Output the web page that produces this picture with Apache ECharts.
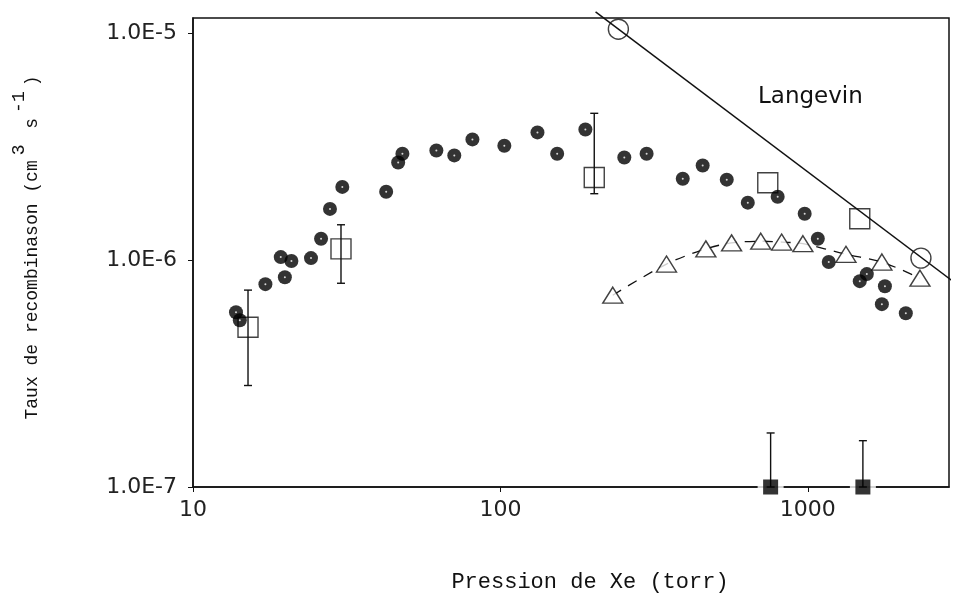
<!DOCTYPE html>
<html>
<head>
<meta charset="utf-8">
<script src="https://cdn.jsdelivr.net/npm/echarts@6/dist/echarts.min.js"></script>
<style>
html,body{margin:0;padding:0;background:#fff;}
#chart{width:959px;height:605px;}
</style>
</head>
<body>
<div id="chart"></div>
<script>
// ---- data (pressure in torr, rate in cm^3 s^-1) ----
const filledP = [13.8, 14.2, 17.2, 19.3, 19.9, 20.9, 24.2, 26.1, 27.9, 30.6, 42.5, 46.5, 48.0, 61.9, 70.8, 81.1, 103, 132, 153, 189, 253, 299, 392, 455, 545, 638, 798, 977, 1078, 1170, 1476, 1556, 1782, 1742, 2084];
const filledK = [5.89e-7, 5.43e-7, 7.83e-7, 1.03e-6, 8.4e-7, 9.9e-7, 1.02e-6, 1.24e-6, 1.68e-6, 2.1e-6, 2.0e-6, 2.69e-6, 2.94e-6, 3.04e-6, 2.89e-6, 3.40e-6, 3.19e-6, 3.65e-6, 2.94e-6, 3.76e-6, 2.83e-6, 2.94e-6, 2.28e-6, 2.61e-6, 2.26e-6, 1.79e-6, 1.90e-6, 1.60e-6, 1.24e-6, 9.8e-7, 8.07e-7, 8.67e-7, 7.67e-7, 6.39e-7, 5.83e-7];

const squareP = [15.1, 30.3, 202, 741, 1476];
const squareK = [5.06e-7, 1.12e-6, 2.31e-6, 2.19e-6, 1.52e-6];

const errP = [15.1, 30.3, 202, 757, 1511];
const errLow = [2.8e-7, 7.9e-7, 1.96e-6, 1.0e-7, 1.0e-7];
const errHigh = [7.37e-7, 1.43e-6, 4.43e-6, 1.73e-7, 1.60e-7];

const openCircleP = [242, 2334];
const openCircleK = [1.04e-5, 1.02e-6];

const triangleP = [232, 347, 466, 565, 703, 822, 964, 1331, 1742, 2317];
const triangleK = [7.0e-7, 9.6e-7, 1.12e-6, 1.19e-6, 1.21e-6, 1.20e-6, 1.18e-6, 1.06e-6, 9.8e-7, 8.32e-7];

const bottomP = [757, 1511];
const bottomK = [1.0e-7, 1.0e-7];

const langevinP = [204, 3083];
const langevinK = [1.24e-5, 7.74e-7];

const xTickValues = [10, 100, 1000];
const xTickLabels = ['10', '100', '1000'];
const yTickValues = [1e-7, 1e-6, 1e-5];
const yTickLabels = ['1.0E-7', '1.0E-6', '1.0E-5'];

// ---- helpers ----
const zip = (a, b) => a.map((v, i) => [v, b[i]]);
function tickLabel(values, labels) {
  return function (v) {
    const lv = Math.log10(v);
    for (let i = 0; i < values.length; i++) {
      if (Math.abs(Math.log10(values[i]) - lv) < 1e-6) return labels[i];
    }
    return '';
  };
}
const errData = errP.map((p, i) => [p, errLow[i], errHigh[i]]);
function renderErr(params, api) {
  const x = api.value(0);
  const lo = api.coord([x, api.value(1)]);
  const hi = api.coord([x, api.value(2)]);
  const cap = 4;
  const st = { stroke: '#111', lineWidth: 1.4 };
  return {
    type: 'group',
    children: [
      { type: 'line', shape: { x1: lo[0], y1: lo[1], x2: hi[0], y2: hi[1] }, style: st },
      { type: 'line', shape: { x1: hi[0] - cap, y1: hi[1], x2: hi[0] + cap, y2: hi[1] }, style: st },
      { type: 'line', shape: { x1: lo[0] - cap, y1: lo[1], x2: lo[0] + cap, y2: lo[1] }, style: st }
    ]
  };
}

const chart = echarts.init(document.getElementById('chart'), null, { renderer: 'canvas' });
const monoFont = 'Liberation Mono';
const option = {
  backgroundColor: '#fff',
  animation: false,
  grid: {
    left: 193, right: 10, top: 18, bottom: 118,
    containLabel: false, outerBoundsMode: 'none',
    show: true, borderColor: '#111', borderWidth: 1.5, backgroundColor: 'transparent'
  },
  xAxis: {
    type: 'log', logBase: 10, min: 10, max: 2880,
    name: 'Pression de Xe (torr)',
    nameLocation: 'middle', nameGap: 84,
    nameTextStyle: { fontFamily: monoFont, fontSize: 22, color: '#111', padding: [0, 0, 0, 38] },
    axisLine: { show: true, lineStyle: { color: '#111', width: 1.5 } },
    axisTick: { show: true, length: 5, customValues: xTickValues, lineStyle: { color: '#111' } },
    minorTick: { show: false },
    splitLine: { show: false },
    axisLabel: {
      fontFamily: 'DejaVu Sans', fontSize: 22, color: '#222', margin: 12,
      customValues: xTickValues,
      formatter: tickLabel(xTickValues, xTickLabels)
    }
  },
  yAxis: {
    type: 'log', logBase: 10, min: 1e-7, max: 1.165e-5,
    name: '{n|Taux de recombinason (cm}{s|3}{n| s}{s|-1}{n|)}',
    nameLocation: 'middle', nameGap: 152, nameRotate: 90,
    nameTextStyle: {
      fontFamily: monoFont, fontSize: 18, color: '#111', padding: [0, 0, 0, 10],
      rich: {
        n: { fontFamily: monoFont, fontSize: 18, color: '#111', lineHeight: 31, verticalAlign: 'bottom' },
        s: { fontFamily: monoFont, fontSize: 18, color: '#111', lineHeight: 31, verticalAlign: 'top', padding: [0, 5, 0, 5] }
      }
    },
    axisLine: { show: true, lineStyle: { color: '#111', width: 1.5 } },
    axisTick: { show: true, length: 5, customValues: yTickValues, lineStyle: { color: '#111' } },
    minorTick: { show: false },
    splitLine: { show: false },
    axisLabel: {
      fontFamily: 'DejaVu Sans', fontSize: 22, color: '#222', margin: 16,
      customValues: yTickValues,
      formatter: tickLabel(yTickValues, yTickLabels)
    }
  },
  graphic: [
    { type: 'text', left: 758, top: 86, z: 10,
      style: { text: 'Langevin', font: '23px "DejaVu Sans"', fill: '#111' } }
  ],
  series: [
    { name: 'tri-line', type: 'line', data: zip(triangleP, triangleK), smooth: 0.3,
      symbol: 'none', z: 1, silent: true,
      lineStyle: { color: '#111', width: 1.3, type: [10, 8] } },
    { name: 'triangles', type: 'scatter', data: zip(triangleP, triangleK), z: 2,
      symbol: 'triangle', symbolSize: [20, 16],
      itemStyle: { color: '#fff', borderColor: '#111', borderWidth: 1.4 } },
    { name: 'bottom-bg', type: 'scatter', data: zip(bottomP, bottomK), z: 3, clip: false,
      symbol: 'rect', symbolSize: [26, 18], silent: true,
      itemStyle: { color: '#fff' } },
    { name: 'errors', type: 'custom', data: errData, renderItem: renderErr, z: 4, clip: false },
    { name: 'squares', type: 'scatter', data: zip(squareP, squareK), z: 5,
      symbol: 'rect', symbolSize: 20,
      itemStyle: { color: 'rgba(0,0,0,0)', borderColor: '#111', borderWidth: 1.4 } },
    { name: 'filled', type: 'scatter', data: zip(filledP, filledK), z: 6,
      symbol: 'circle', symbolSize: 14,
      itemStyle: { color: '#000' } },
    { name: 'highlights', type: 'scatter', data: zip(filledP, filledK), z: 7, silent: true,
      symbol: 'circle', symbolSize: 2,
      itemStyle: { color: '#fff' } },
    { name: 'open-circles', type: 'scatter', data: zip(openCircleP, openCircleK), z: 6,
      symbol: 'circle', symbolSize: 20,
      itemStyle: { color: 'rgba(0,0,0,0)', borderColor: '#111', borderWidth: 1.4 } },
    { name: 'Langevin', type: 'line', data: zip(langevinP, langevinK), z: 8, clip: false,
      symbol: 'none', silent: true,
      lineStyle: { color: '#111', width: 1.5 } },
    { name: 'bottom', type: 'scatter', data: zip(bottomP, bottomK), z: 9, clip: false,
      symbol: 'rect', symbolSize: 15,
      itemStyle: { color: '#000' } }
  ]
};
chart.setOption(option);
</script>
</body>
</html>
